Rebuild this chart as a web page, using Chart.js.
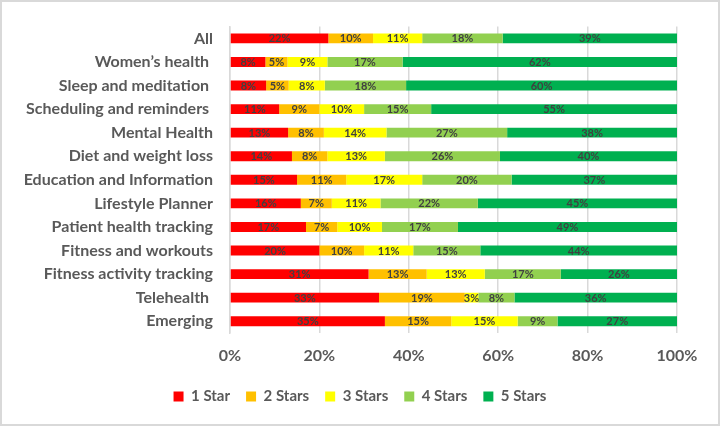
<!DOCTYPE html>
<html>
<head>
<meta charset="utf-8">
<script src="https://cdn.jsdelivr.net/npm/chart.js@4"></script>
<style>
  html, body { margin: 0; padding: 0; background: #fff; }
  #wrap { width: 720px; height: 426px; }
</style>
</head>
<body>
<div id="wrap"><canvas id="ratingsChart" width="720" height="426"></canvas></div>
<script>
const categories = ['All', 'Women\u2019s health ', 'Sleep and meditation ', 'Scheduling and reminders ',
    'Mental Health', 'Diet and weight loss', 'Education and Information', 'Lifestyle Planner',
    'Patient health tracking', 'Fitness and workouts', 'Fitness activity tracking', 'Telehealth ', 'Emerging'];
const seriesNames = ['1 Star', '2 Stars', '3 Stars', '4 Stars', '5 Stars'];
const star1 = [22, 8, 8, 11, 13, 14, 15, 16, 17, 20, 31, 33, 35];
const star2 = [10, 5, 5, 9, 8, 8, 11, 7, 7, 10, 13, 19, 15];
const star3 = [11, 9, 8, 10, 14, 13, 17, 11, 10, 11, 13, 3, 15];
const star4 = [18, 17, 18, 15, 27, 26, 20, 22, 17, 15, 17, 8, 9];
const star5 = [39, 62, 60, 55, 38, 40, 37, 45, 49, 44, 26, 36, 27];
const xTicks = [0, 20, 40, 60, 80, 100];

const colors = ['#FF0000', '#FFC000', '#FFFF00', '#92D050', '#00B050'];
const raw = [star1, star2, star3, star4, star5];
const FONT = 'Lato';

// 100% stacked: scale each row to its own total
const totals = categories.map((c, i) => raw.reduce((s, arr) => s + arr[i], 0));

const datasets = raw.map((arr, k) => ({
    label: seriesNames[k],
    data: arr.map((v, i) => v / totals[i] * 100),
    rawValues: arr,
    backgroundColor: colors[k],
    borderWidth: 0,
    barPercentage: 0.42,
    categoryPercentage: 1.0
}));

const segmentLabels = {
    id: 'segmentLabels',
    afterDatasetsDraw(chart) {
        const ctx = chart.ctx;
        ctx.save();
        ctx.font = 'bold 11px ' + FONT;
        ctx.fillStyle = '#404040';
        ctx.textAlign = 'center';
        ctx.textBaseline = 'middle';
        chart.data.datasets.forEach((ds, k) => {
            chart.getDatasetMeta(k).data.forEach((bar, i) => {
                const cx = (bar.x + bar.base) / 2;
                ctx.fillText(ds.rawValues[i] + '%', cx, bar.y + 0.5);
            });
        });
        ctx.restore();
    }
};

const frame = {
    id: 'frame',
    beforeDraw(chart) {
        const ctx = chart.ctx;
        ctx.save();
        ctx.fillStyle = '#fff';
        ctx.fillRect(0, 0, chart.width, chart.height);
        ctx.strokeStyle = '#d9d9d9';
        ctx.lineWidth = 2;
        ctx.strokeRect(1, 1, chart.width - 2, chart.height - 2);
        ctx.restore();
    }
};

const ctx = document.getElementById('ratingsChart').getContext('2d');
new Chart(ctx, {
    type: 'bar',
    data: { labels: categories, datasets: datasets },
    options: {
        indexAxis: 'y',
        responsive: false,
        animation: false,
        devicePixelRatio: 1,
        layout: { padding: { top: 20, right: 0, left: 0, bottom: 12 } },
        scales: {
            x: {
                stacked: true,
                min: 0,
                max: 100,
                afterBuildTicks(scale) { scale.ticks = xTicks.map(v => ({ value: v })); },
                afterFit(scale) { scale.height = 40; },
                ticks: {
                    padding: 13,
                    color: '#595959',
                    font: { family: FONT, size: 16, weight: 'bold' },
                    callback: v => v + '%'
                },
                grid: { color: '#d9d9d9', lineWidth: 1.5, drawTicks: false },
                border: { display: false }
            },
            y: {
                stacked: true,
                afterFit(scale) { scale.width = 230; },
                ticks: {
                    padding: 17,
                    color: '#595959',
                    font: { family: FONT, size: 16, weight: 'bold' }
                },
                grid: { display: false, drawTicks: false },
                border: { display: true, color: '#d9d9d9', width: 1.5 }
            },
            // empty right-hand axis, only there to reserve the right margin
            yRight: {
                type: 'category',
                position: 'right',
                afterFit(scale) { scale.width = 43; },
                ticks: { display: false },
                grid: { display: false, drawTicks: false },
                border: { display: false }
            }
        },
        plugins: {
            legend: {
                position: 'bottom',
                labels: {
                    boxWidth: 10,
                    boxHeight: 10,
                    padding: 16,
                    color: '#595959',
                    font: { family: FONT, size: 15, weight: 'bold' }
                }
            },
            tooltip: { enabled: false }
        }
    },
    plugins: [frame, segmentLabels]
});
</script>
</body>
</html>
